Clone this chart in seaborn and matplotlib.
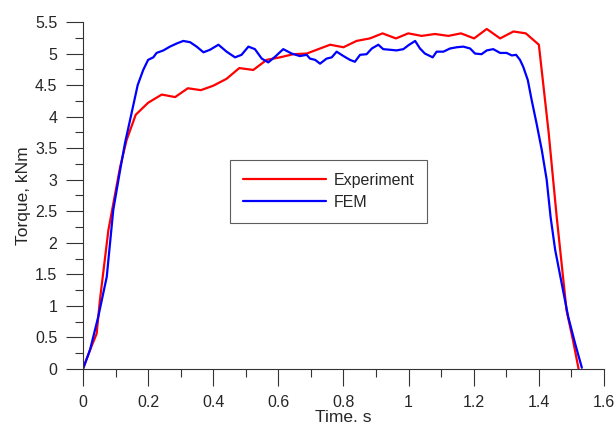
import pandas as pd
import seaborn as sns
import matplotlib.pyplot as plt
from matplotlib.ticker import MultipleLocator, FormatStrFormatter

# Experiment curve (time s, torque kNm)
exp_t = [0, 0.02, 0.042, 0.052, 0.078, 0.114, 0.134, 0.162, 0.2, 0.242, 0.283, 0.322,
         0.362, 0.4, 0.441, 0.48, 0.523, 0.564, 0.605, 0.646, 0.687, 0.728, 0.759,
         0.8, 0.84, 0.881, 0.92, 0.961, 0.999, 1.04, 1.081, 1.122, 1.161, 1.201,
         1.24, 1.281, 1.322, 1.36, 1.40, 1.43, 1.455, 1.485, 1.505, 1.522]
exp_q = [0, 0.28, 0.56, 1.09, 2.2, 3.2, 3.63, 4.03, 4.22, 4.35, 4.31, 4.45,
         4.42, 4.49, 4.60, 4.77, 4.74, 4.90, 4.94, 4.99, 5.0, 5.08, 5.14,
         5.10, 5.20, 5.24, 5.32, 5.24, 5.32, 5.28, 5.31, 5.28, 5.32, 5.24,
         5.39, 5.24, 5.35, 5.32, 5.14, 3.75, 2.4, 0.93, 0.45, 0.0]

# FEM curve
fem_t = [0, 0.0215, 0.047, 0.073, 0.093, 0.114, 0.129, 0.149, 0.168, 0.185, 0.2,
         0.216, 0.226, 0.247, 0.267, 0.288, 0.308, 0.329, 0.349, 0.37, 0.39,
         0.416, 0.441, 0.467, 0.487, 0.508, 0.528, 0.549, 0.569, 0.59, 0.615,
         0.641, 0.666, 0.687, 0.697, 0.713, 0.728, 0.748, 0.764, 0.779, 0.8,
         0.82, 0.835, 0.851, 0.871, 0.887, 0.907, 0.922, 0.943, 0.963, 0.984,
         0.999, 1.02, 1.035, 1.05, 1.074, 1.086, 1.107, 1.127, 1.148, 1.168,
         1.189, 1.204, 1.224, 1.24, 1.26, 1.281, 1.301, 1.317, 1.33, 1.342,
         1.352, 1.366, 1.378, 1.393, 1.409, 1.424, 1.436, 1.45, 1.47, 1.49,
         1.511, 1.532]
fem_q = [0, 0.30, 0.83, 1.46, 2.52, 3.15, 3.58, 4.05, 4.5, 4.74, 4.9,
         4.94, 5.01, 5.05, 5.11, 5.16, 5.2, 5.18, 5.11, 5.02, 5.06,
         5.14, 5.03, 4.94, 4.98, 5.11, 5.07, 4.92, 4.86, 4.95, 5.07,
         5.00, 4.96, 4.98, 4.92, 4.90, 4.84, 4.92, 4.94, 5.03, 4.96,
         4.90, 4.87, 4.98, 4.99, 5.08, 5.14, 5.07, 5.06, 5.05, 5.07,
         5.13, 5.2, 5.08, 5.0, 4.94, 5.03, 5.03, 5.08, 5.1, 5.11,
         5.08, 5.0, 4.99, 5.05, 5.07, 5.01, 5.01, 4.97, 4.98, 4.90,
         4.79, 4.58, 4.26, 3.89, 3.47, 3.0, 2.41, 1.89, 1.36, 0.83,
         0.41, 0.02]

df = pd.concat([
    pd.DataFrame({"t": exp_t, "q": exp_q, "src": "Experiment"}),
    pd.DataFrame({"t": fem_t, "q": fem_q, "src": "FEM"}),
], ignore_index=True)

sns.set_style("ticks")
plt.rcParams["font.family"] = ["Liberation Sans", "DejaVu Sans"]

fig = plt.figure(figsize=(6.16, 4.3), dpi=100)
ax = fig.add_axes([0.1347, 0.1419, 0.8458, 0.8069])

sns.lineplot(data=df, x="t", y="q", hue="src", ax=ax, sort=False,
             palette={"Experiment": "#ff0000", "FEM": "#0000ff"}, linewidth=1.6)

ax.set_xlim(0, 1.6)
ax.set_ylim(0, 5.5)
ax.xaxis.set_major_locator(MultipleLocator(0.2))
ax.xaxis.set_minor_locator(MultipleLocator(0.1))
ax.yaxis.set_major_locator(MultipleLocator(0.5))
ax.yaxis.set_minor_locator(MultipleLocator(0.25))
ax.xaxis.set_major_formatter(FormatStrFormatter("%g"))
ax.yaxis.set_major_formatter(FormatStrFormatter("%g"))
ax.tick_params(which="major", length=12, width=0.8, color="#333333", labelsize=11.5)
ax.tick_params(axis="x", which="major", pad=7)
ax.tick_params(axis="y", which="major", pad=6.5)
ax.tick_params(which="minor", length=5.5, width=0.8, color="#333333")

sns.despine(ax=ax)
for s in ["left", "bottom"]:
    ax.spines[s].set_linewidth(0.8)
    ax.spines[s].set_color("#333333")

ax.set_xlabel("Time. s", fontsize=12.5, labelpad=0)
ax.set_ylabel("Torque, kNm", fontsize=12.5, labelpad=3)

leg = ax.legend(loc="upper left", bbox_to_anchor=(0.282, 0.602), fontsize=11.5,
                frameon=True, fancybox=False, edgecolor="#333333",
                handlelength=5.2, handletextpad=0.5, borderpad=0.8,
                labelspacing=0.45, borderaxespad=0)
leg.get_frame().set_linewidth(0.8)

fig.savefig("out.png", dpi=100)
